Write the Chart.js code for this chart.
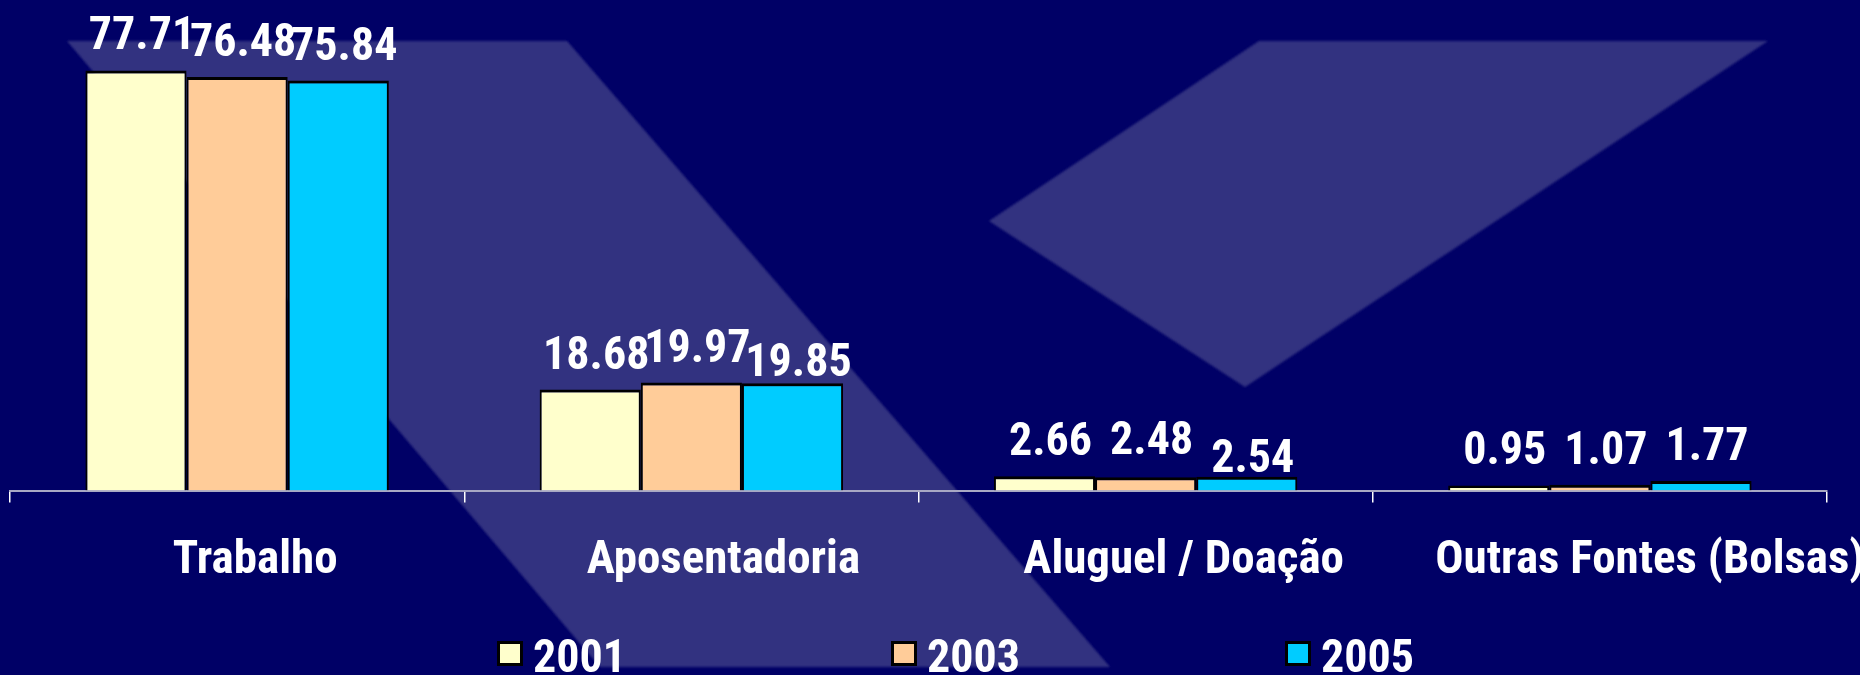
<!DOCTYPE html>
<html>
<head>
<meta charset="utf-8">
<script src="https://cdn.jsdelivr.net/npm/chart.js@4.4.1/dist/chart.umd.min.js"></script>
<style>
  html, body { margin: 0; padding: 0; background: #000066; overflow: hidden; }
  #wrap { position: relative; width: 1860px; height: 675px; }
  #bg, #c { position: absolute; left: 0; top: 0; }
</style>
</head>
<body>
<div id="wrap">
  <svg id="bg" width="1860" height="675" viewBox="0 0 1860 675">
    <defs><filter id="soft"><feGaussianBlur stdDeviation="1.2"/></filter></defs>
    <rect width="1860" height="675" fill="#000066"/>
    <g fill="#333380" filter="url(#soft)">
      <polygon points="67,41 567,41 1110,667 600,667"/>
      <polygon points="1259,41 1768,41 1245,387 989,221"/>
    </g>
  </svg>
  <canvas id="c" width="1860" height="675"></canvas>
</div>
<script>
// ---- data ----
const categories = ['Trabalho', 'Aposentadoria', 'Aluguel / Doação', 'Outras Fontes (Bolsas)'];
const seriesNames = ['2001', '2003', '2005'];
const values2001 = [77.71, 18.68, 2.66, 0.95];
const values2003 = [76.48, 19.97, 2.48, 1.07];
const values2005 = [75.84, 19.85, 2.54, 1.77];

// ---- styles ----
const FONT = "'Roboto Condensed', 'Liberation Sans', sans-serif";
const seriesColors = ['#FFFFCC', '#FFCC99', '#00CCFF'];
// extra downward nudge of a few value labels, as placed in the original slide
const labelDrop = [[0, 0, 0, 0], [0, 0, -2, 0], [0, 14, 16, 0]];
// small horizontal nudges of the category labels, as placed in the original slide
const categoryLabelShift = [-18, -4, 2, 14];

const categoryLabelNudge = {
  id: 'categoryLabelNudge',
  beforeDraw(chart) {
    try {
      const scale = chart.scales.x;
      const items = scale.getLabelItems();
      if (!items || items._nudged) return;
      items.forEach((it, i) => {
        if (it.options && Array.isArray(it.options.translation)) {
          it.options.translation[0] += categoryLabelShift[i] || 0;
        }
      });
      items._nudged = true;
    } catch (e) { /* keep default placement */ }
  }
};

const valueLabelPlugin = {
  id: 'valueLabels',
  afterDatasetsDraw(chart) {
    const ctx = chart.ctx;
    ctx.save();
    ctx.font = 'bold 46px ' + FONT;
    ctx.fillStyle = '#ffffff';
    ctx.textAlign = 'center';
    ctx.textBaseline = 'alphabetic';
    chart.data.datasets.forEach((ds, i) => {
      const meta = chart.getDatasetMeta(i);
      meta.data.forEach((bar, j) => {
        const drop = labelDrop[i][j] || 0;
        ctx.fillText(ds.data[j].toFixed(2), bar.x + 6, bar.y - 21 + drop);
      });
    });
    ctx.restore();
  }
};

const bottomLegendPlugin = {
  id: 'bottomLegend',
  afterDraw(chart) {
    const ctx = chart.ctx;
    const x0 = 497, step = 394, boxW = 26, boxH = 25, boxTop = 641, baseline = 672;
    ctx.save();
    ctx.font = 'bold 46px ' + FONT;
    ctx.textAlign = 'left';
    ctx.textBaseline = 'alphabetic';
    chart.data.datasets.forEach((ds, i) => {
      const x = x0 + i * step;
      ctx.fillStyle = '#000000';
      ctx.fillRect(x, boxTop, boxW, boxH);
      ctx.fillStyle = ds.backgroundColor;
      ctx.fillRect(x + 3, boxTop + 3, boxW - 6, boxH - 6);
      ctx.fillStyle = '#ffffff';
      ctx.fillText(ds.label, x + boxW + 10, baseline);
    });
    ctx.restore();
  }
};

const seriesValues = [values2001, values2003, values2005];
const datasets = seriesNames.map((name, i) => ({
  label: name,
  data: seriesValues[i],
  backgroundColor: seriesColors[i],
  borderColor: '#000000',
  borderWidth: { top: 3, left: 2, right: 2, bottom: 0 },
  borderSkipped: 'bottom',
  categoryPercentage: 0.668,
  barPercentage: 1.0
}));

new Chart(document.getElementById('c'), {
  type: 'bar',
  data: { labels: categories, datasets },
  options: {
    responsive: false,
    animation: false,
    events: [],
    layout: { padding: { top: 31, left: 10, right: 33, bottom: 56 } },
    plugins: {
      legend: { display: false },
      tooltip: { enabled: false },
      title: { display: false }
    },
    scales: {
      x: {
        offset: true,
        grid: {
          display: true,
          offset: true,
          drawOnChartArea: false,
          drawTicks: true,
          tickLength: 12,
          color: '#ffffff',
          lineWidth: 1.5
        },
        border: { display: true, color: '#a8a8c4', width: 2 },
        ticks: {
          color: '#ffffff',
          font: { family: FONT, size: 47, weight: 'bold' },
          padding: 30,
          labelOffset: 36,
          maxRotation: 0,
          minRotation: 0,
          autoSkip: false
        }
      },
      y: {
        display: false,
        min: 0,
        max: 85
      }
    }
  },
  plugins: [categoryLabelNudge, valueLabelPlugin, bottomLegendPlugin]
});
</script>
</body>
</html>
